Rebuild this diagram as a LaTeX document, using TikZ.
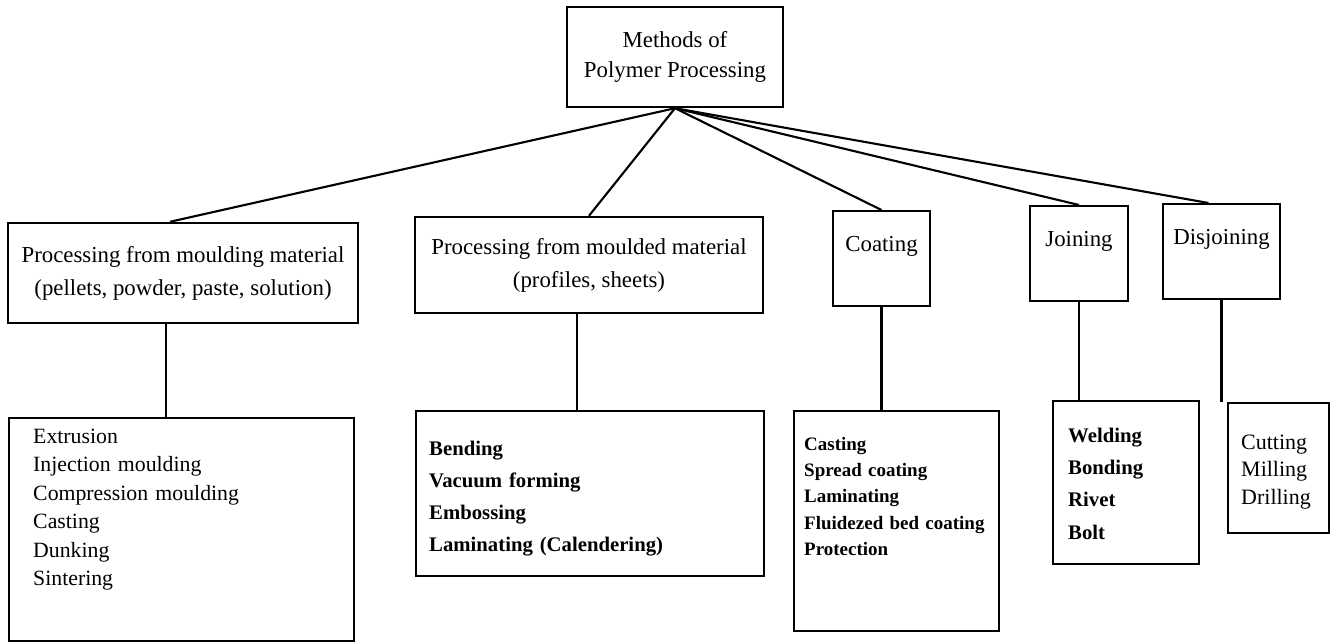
\documentclass[tikz,border=0pt]{standalone}
\usepackage{fontspec}
\setmainfont{Liberation Serif}
\usetikzlibrary{positioning,calc}
\newcommand{\pmfont}[2]{\fontsize{#1}{#2}\selectfont}
\tikzset{
  catbox/.style={draw, line width=1.4pt, align=center, font={\pmfont{13}{17}}},
  tallbox/.style={catbox, anchor=north, inner ysep=0pt, text height=0.8cm, text depth=1.1cm},
  listbox/.style={draw, line width=1.4pt, align=left, anchor=north west, inner ysep=0pt},
  branch/.style={line width=1.2pt}
}
\begin{document}
\begin{tikzpicture}[x=0.02cm, y=-0.02cm]
  \useasboundingbox (0,0) rectangle (1341,644);
  % top level
  \node[catbox, minimum width=4.32cm, minimum height=2cm] (root) at (675,57) {Methods of\\Polymer Processing};
  % categories
  \node[catbox, minimum width=7cm, minimum height=2cm, font={\pmfont{13}{18.7}}] (mould) at (183,273)
    {Processing from moulding material\\(pellets, powder, paste, solution)};
  \node[catbox, minimum width=6.96cm, minimum height=1.92cm, font={\pmfont{13}{18.7}}] (moulded) at (589,265)
    {Processing from moulded material\\(profiles, sheets)};
  \node[tallbox, minimum width=1.94cm] (coat) at (881.5,210) {Coating};
  \node[tallbox, minimum width=1.96cm] (join) at (1079,205) {Joining};
  \node[tallbox, minimum width=2.34cm] (dis) at (1221.5,203) {Disjoining};
  % method lists
  \node[listbox, inner xsep=0.48cm, text width=5.94cm, text height=0.5cm, text depth=3.96cm,
    font={\pmfont{12.4}{16.2}}] (mlist) at (8,417)
    {Extrusion\\Injection moulding\\Compression moulding\\Casting\\Dunking\\Sintering};
  \node[listbox, inner xsep=0.26cm, text width=6.44cm, text height=0.88cm, text depth=2.42cm,
    font={\pmfont{11.8}{18.2}\bfseries}] (dlist) at (415,410)
    {Bending\\Vacuum forming\\Embossing\\Laminating (Calendering)};
  \node[listbox, inner xsep=0.2cm, text width=3.7cm, text height=0.78cm, text depth=3.62cm,
    font={\pmfont{10.8}{15}\bfseries}] (clist) at (793,410)
    {Casting\\Spread coating\\Laminating\\Fluidezed bed coating\\Protection};
  \node[listbox, inner xsep=0.3cm, text width=2.32cm, text height=0.82cm, text depth=2.44cm,
    font={\pmfont{11.8}{18.4}\bfseries}] (jlist) at (1052,400)
    {Welding\\Bonding\\Rivet\\Bolt};
  \node[listbox, inner xsep=0.26cm, text width=1.5cm, text height=0.92cm, text depth=1.68cm,
    font={\pmfont{12.5}{15.6}}] (xlist) at (1227,402)
    {Cutting\\Milling\\Drilling};
  % branches from the top box
  \draw[branch] (root.south) -- ($(mould.north)+(-13,0)$);
  \draw[branch] (root.south) -- (moulded.north);
  \foreach \cat in {coat, join} {
    \draw[branch] (root.south) -- (\cat.north);
  }
  \draw[branch] (root.south) -- ($(dis.north)+(-13,0)$);
  % drops to the lists
  \coordinate (mdrop) at ($(mould.south)+(-17,0)$);
  \coordinate (ddrop) at ($(moulded.south)+(-12,0)$);
  \draw[branch] (mdrop) -- (mdrop |- mlist.north);
  \draw[branch] (ddrop) -- (ddrop |- dlist.north);
  \foreach \cat/\lst in {coat/clist, join/jlist, dis/xlist} {
    \draw[branch] (\cat.south) -- (\cat.south |- \lst.north);
  }
\end{tikzpicture}
\end{document}
